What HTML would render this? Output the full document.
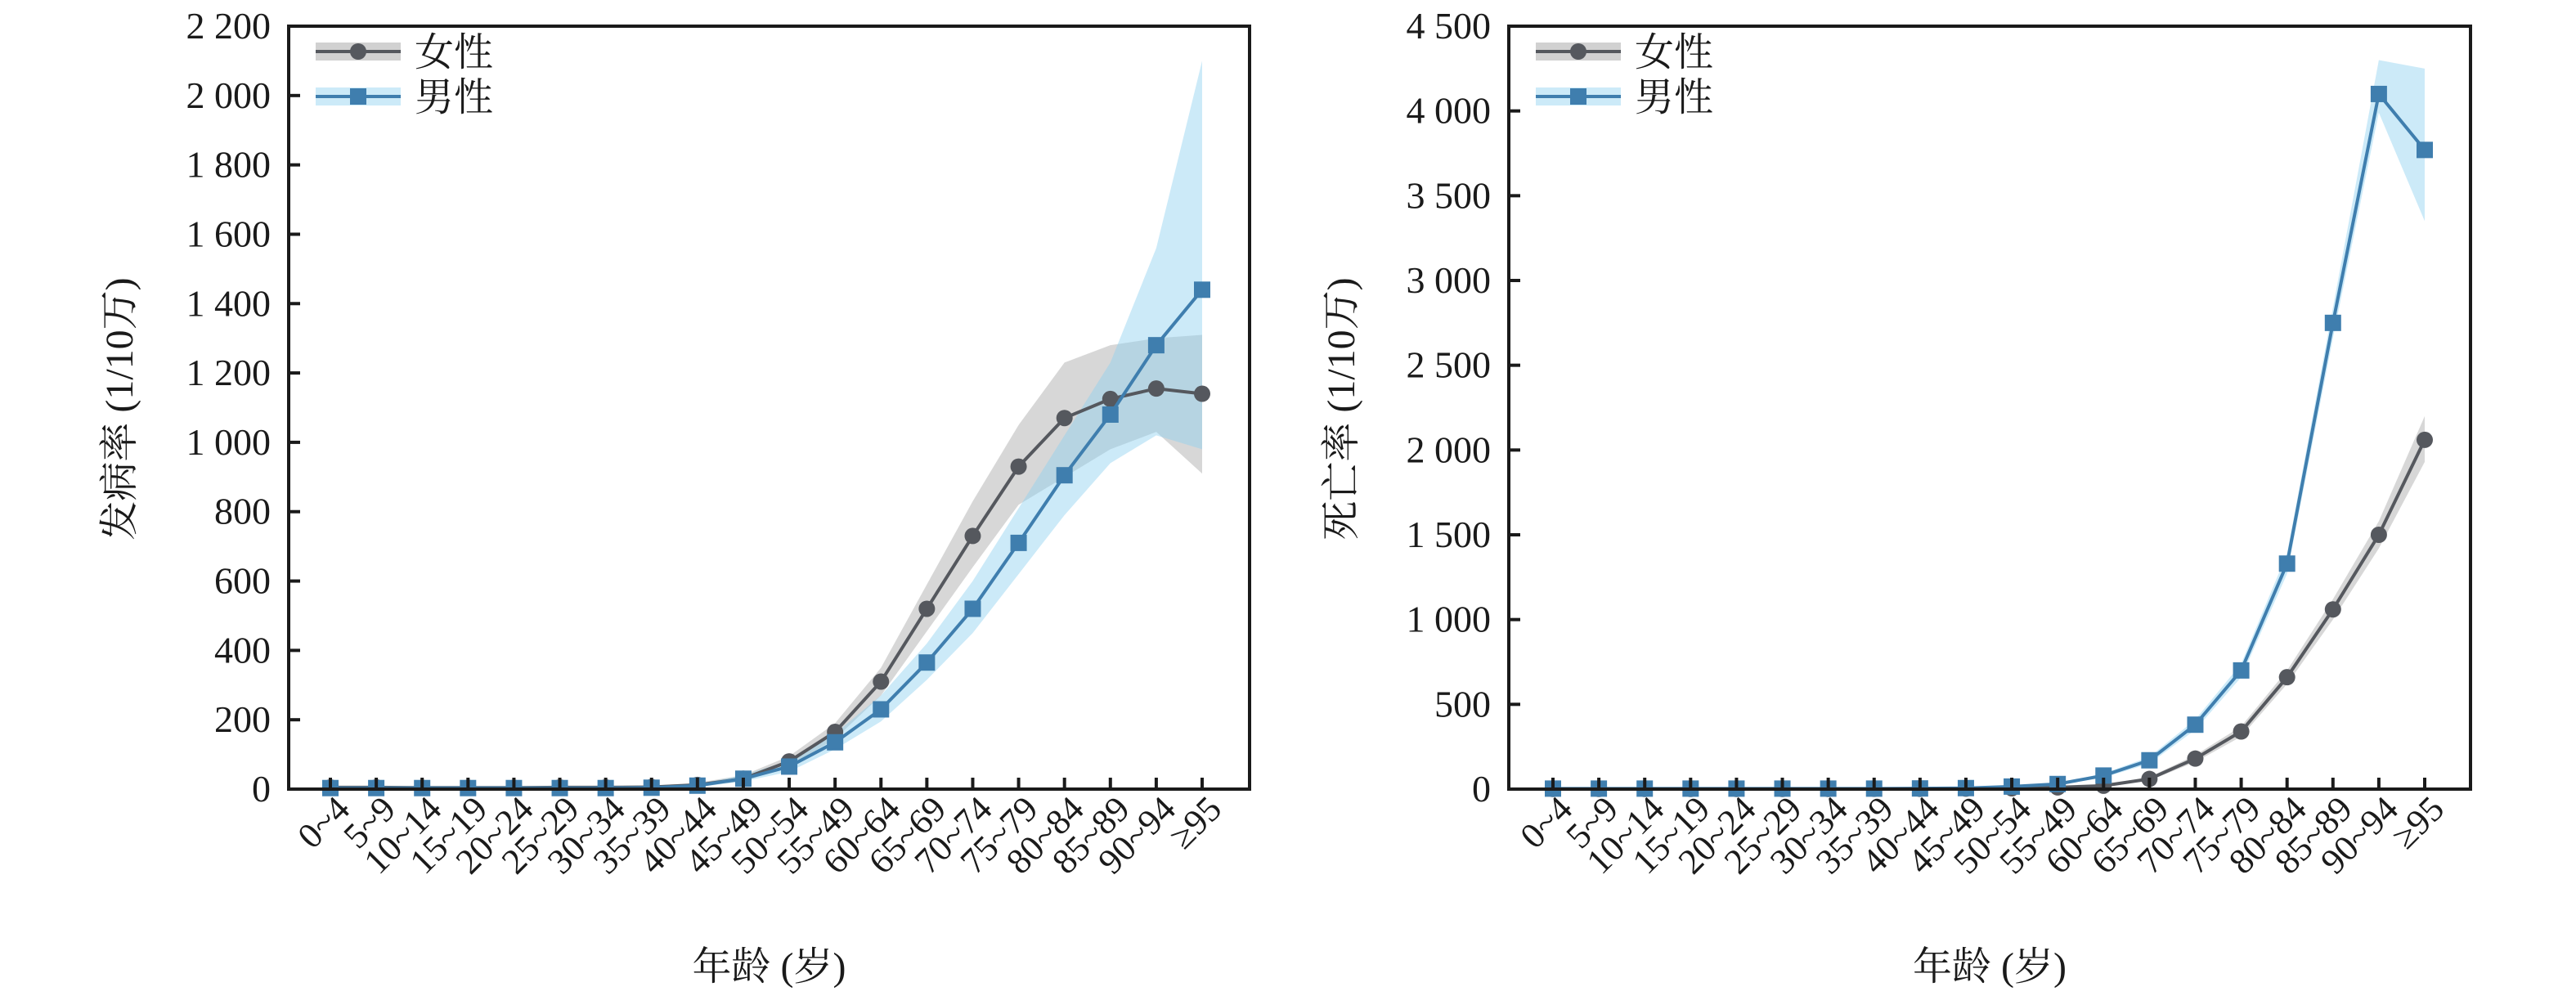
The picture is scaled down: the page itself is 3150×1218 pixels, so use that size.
<!DOCTYPE html>
<html><head><meta charset="utf-8"><style>
html,body{margin:0;padding:0;background:#fff;}
svg{display:block;font-family:"Liberation Serif","Noto Serif CJK SC","Noto Sans CJK SC",serif;}
</style></head><body>
<svg id="fig" width="3150" height="1218" viewBox="0 0 3150 1218" xmlns="http://www.w3.org/2000/svg"></svg>
<script>
const categories = ["0~4","5~9","10~14","15~19","20~24","25~29","30~34","35~39","40~44","45~49","50~54","55~49","60~64","65~69","70~74","75~79","80~84","85~89","90~94","≥95"];
// incidence
const incFemale = [5,5,4,4,4,5,5,6,12,30,80,165,310,520,730,930,1070,1125,1155,1140];
const incFemaleLo = [2,2,2,2,2,2,2,3,8,22,65,145,270,455,640,820,900,980,1030,910];
const incFemaleHi = [9,9,8,8,8,9,9,10,18,40,95,190,350,590,830,1050,1230,1280,1300,1310];
const incMale = [3,3,3,3,3,3,3,4,10,30,65,135,230,365,520,710,905,1080,1280,1440];
const incMaleLo = [1,1,1,1,1,1,1,2,6,22,50,115,195,315,450,620,790,940,1020,980];
const incMaleHi = [6,6,6,6,6,6,6,7,15,40,82,160,270,420,600,810,1020,1230,1560,2100];
const incTicks = [0,200,400,600,800,1000,1200,1400,1600,1800,2000,2200];
const incTickLabels = ["0","200","400","600","800","1 000","1 200","1 400","1 600","1 800","2 000","2 200"];
// mortality
const morFemale = [1,1,1,1,1,1,1,2,2,3,5,10,20,60,180,340,660,1060,1500,2060];
const morFemaleLo = [0,0,0,0,0,0,0,1,1,2,3,7,15,50,160,310,620,1000,1420,1930];
const morFemaleHi = [2,2,2,2,2,2,2,3,3,5,8,14,26,72,200,370,700,1120,1580,2200];
const morMale = [3,3,3,3,3,3,3,3,4,6,15,30,80,170,380,700,1330,2750,4100,3770];
const morMaleLo = [1,1,1,1,1,1,1,1,2,4,11,24,68,150,350,660,1270,2660,3990,3350];
const morMaleHi = [5,5,5,5,5,5,5,5,6,9,20,36,92,190,410,740,1390,2840,4300,4250];
const morTicks = [0,500,1000,1500,2000,2500,3000,3500,4000,4500];
const morTickLabels = ["0","500","1 000","1 500","2 000","2 500","3 000","3 500","4 000","4 500"];

const NS = "http://www.w3.org/2000/svg";
const svg = document.getElementById("fig");
function mk(tag, attrs, parent){const e=document.createElementNS(NS,tag);for(const k in attrs)e.setAttribute(k,attrs[k]);(parent||svg).appendChild(e);return e;}

function panel(cfg){
  const g = mk("g",{});
  
  
  const L=cfg.left,R=cfg.right,T=32,B=965;
  const x = i => cfg.x0 + i*(cfg.x1-cfg.x0)/(categories.length-1);
  const y = v => B - v/cfg.max*(B-T);
  function band(lo,hi,color,op,nm){
    let d="M"+categories.map((c,i)=>x(i)+","+y(hi[i])).join(" L");
    for(let i=categories.length-1;i>=0;i--) d+=" L"+x(i)+","+y(lo[i]);
    const p=mk("path",{d:d+"Z",fill:color,"fill-opacity":op},g);
    
    
  }
  band(cfg.fLo,cfg.fHi,"#9a9a9a",0.4,"female-ci-band");
  band(cfg.mLo,cfg.mHi,"#8fd0ef",0.45,"male-ci-band");
  function series(vals,color,shape,nm){
    const pl=mk("polyline",{points:vals.map((v,i)=>x(i)+","+y(v)).join(" "),fill:"none",stroke:color,"stroke-width":4},g);
    
    
    vals.forEach((v,i)=>{
      let m;
      if(shape==="sq") m=mk("rect",{x:x(i)-10,y:y(v)-10,width:20,height:20,fill:color},g);
      else m=mk("circle",{cx:x(i),cy:y(v),r:10,fill:color},g);
      
      
    });
  }
  series(cfg.f,"#55585e","c","female");
  series(cfg.m,"#3f7eae","sq","male");
  // frame
  const fr=mk("rect",{x:L,y:T,width:R-L,height:B-T,fill:"none",stroke:"#1a1a1a","stroke-width":4},g);
  
  
  cfg.ticks.forEach((t,i)=>{
    const tk=mk("line",{x1:L,x2:L+14,y1:y(t),y2:y(t),stroke:"#1a1a1a","stroke-width":4},g);
    
    
    const tl=mk("text",{x:L-22,y:y(t)+15,"text-anchor":"end","font-size":46,fill:"#1a1a1a"},g);
    tl.textContent=cfg.tickLabels[i];
    
    
  });
  categories.forEach((c,i)=>{
    const tk=mk("line",{x1:x(i),x2:x(i),y1:B,y2:B-14,stroke:"#1a1a1a","stroke-width":4},g);
    
    
    const tx=x(i)+26, ty=992;
    const tl=mk("text",{x:tx,y:ty,"text-anchor":"end","font-size":44,fill:"#1a1a1a",transform:"rotate(-45 "+tx+" "+ty+")"},g);
    tl.textContent=c;
    
    
  });
  const xt=mk("text",{x:(L+R)/2,y:1198,"text-anchor":"middle","font-size":48,fill:"#1a1a1a"},g);
  xt.textContent="年龄 (岁)";
  
  
  const yx=cfg.ytx, yy=500;
  const yt=mk("text",{x:yx,y:yy,"text-anchor":"middle","font-size":48,fill:"#1a1a1a",transform:"rotate(-90 "+yx+" "+yy+")"},g);
  yt.textContent=cfg.ytitle;
  
  
  // legend
  const lg=mk("g",{},g);
  
  
  [[63,"#55585e","#9a9a9a","女性","c"],[118,"#3f7eae","#8fd0ef","男性","sq"]].forEach(([ly,col,bc,lab,sh])=>{
    const e=mk("g",{},lg);
    
    
    mk("rect",{x:L+33,y:ly-11,width:104,height:22,fill:bc,"fill-opacity":0.45},e);
    mk("line",{x1:L+33,x2:L+137,y1:ly,y2:ly,stroke:col,"stroke-width":4},e);
    if(sh==="sq") mk("rect",{x:L+75,y:ly-10,width:20,height:20,fill:col},e);
    else mk("circle",{cx:L+85,cy:ly,r:10,fill:col},e);
    const t=mk("text",{x:L+154,y:ly+17,"font-size":48,fill:"#1a1a1a"},e);
    t.textContent=lab;
  });
}
panel({name:"incidence-chart",left:353,right:1528,x0:404,x1:1470,max:2200,f:incFemale,fLo:incFemaleLo,fHi:incFemaleHi,m:incMale,mLo:incMaleLo,mHi:incMaleHi,ticks:incTicks,tickLabels:incTickLabels,ytitle:"发病率 (1/10万)",ytx:162});
panel({name:"mortality-chart",left:1845,right:3021,x0:1899,x1:2965,max:4500,f:morFemale,fLo:morFemaleLo,fHi:morFemaleHi,m:morMale,mLo:morMaleLo,mHi:morMaleHi,ticks:morTicks,tickLabels:morTickLabels,ytitle:"死亡率 (1/10万)",ytx:1656});
</script>
</body></html>
